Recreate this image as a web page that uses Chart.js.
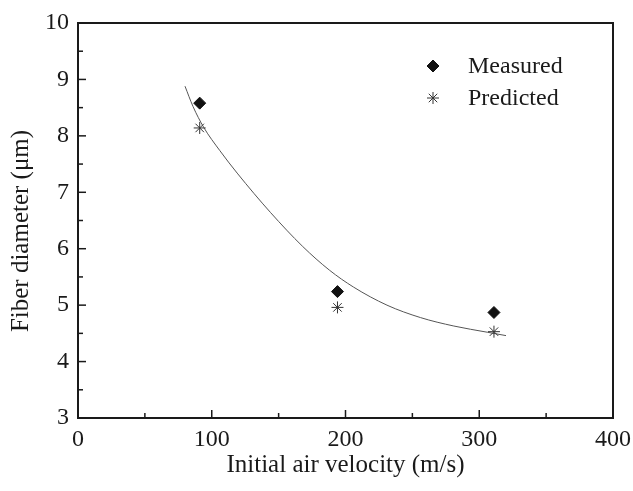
<!DOCTYPE html>
<html>
<head>
<meta charset="utf-8">
<script src="https://cdn.jsdelivr.net/npm/chart.js@4.4.1/dist/chart.umd.min.js"></script>
<style>
  html, body { margin: 0; padding: 0; background: #fff; }
  #wrap { width: 633px; height: 491px; }
</style>
</head>
<body>
<div id="wrap"><canvas id="fiberChart" width="633" height="491"></canvas></div>
<script>
const velocity = [91, 194, 311];
const measured = [8.58, 5.24, 4.87];
const predicted = [8.14, 4.96, 4.53];

// fitted curve
const fitX = [80, 86, 94, 106, 119, 144, 168, 188, 206, 231, 256, 281, 306, 320];
const fitY = [8.88, 8.52, 8.15, 7.74, 7.34, 6.64, 6.04, 5.62, 5.32, 5.00, 4.78, 4.63, 4.52, 4.46];

const xTicks = [0, 100, 200, 300, 400];
const yTicks = [3, 4, 5, 6, 7, 8, 9, 10];

const serif = "'Liberation Serif', 'Times New Roman', serif";
const ink = '#1a1a1a';
const yTitle = 'Fiber diameter (μm)';

// frame, inward ticks, y title and legend
const framePlugin = {
  id: 'frame',
  afterDraw(chart) {
    const { ctx, chartArea: a, scales } = chart;
    const xs = scales.x, ys = scales.y;
    ctx.save();
    ctx.strokeStyle = ink;
    ctx.lineWidth = 2;
    ctx.strokeRect(a.left, a.top, a.right - a.left, a.bottom - a.top);

    ctx.lineWidth = 1.5;
    for (let v = 0; v <= 400; v += 50) {
      const px = xs.getPixelForValue(v);
      const len = v % 100 === 0 ? 8 : 5;
      ctx.beginPath();
      ctx.moveTo(px, a.bottom);
      ctx.lineTo(px, a.bottom - len);
      ctx.stroke();
    }
    for (let v = 3; v <= 10; v += 0.5) {
      const py = ys.getPixelForValue(v);
      const len = v % 1 === 0 ? 8 : 5;
      ctx.beginPath();
      ctx.moveTo(a.left, py);
      ctx.lineTo(a.left + len, py);
      ctx.stroke();
    }

    // y title sits a little below the middle in the original
    ctx.fillStyle = ink;
    ctx.font = '25px ' + serif;
    ctx.textAlign = 'center';
    ctx.textBaseline = 'middle';
    ctx.translate(21, 231);
    ctx.rotate(-Math.PI / 2);
    ctx.fillText(yTitle, 0, 0);
    ctx.setTransform(1, 0, 0, 1, 0, 0);

    // legend
    ctx.font = '24px ' + serif;
    ctx.textAlign = 'left';
    [chart.data.datasets[0], chart.data.datasets[1]].forEach((ds, i) => {
      const y = 66 + i * 32;
      ctx.fillStyle = ds.backgroundColor;
      ctx.strokeStyle = ds.borderColor;
      ctx.lineWidth = ds.borderWidth;
      Chart.helpers.drawPoint(ctx, {
        pointStyle: ds.pointStyle,
        radius: ds.pointRadius,
        borderWidth: ds.borderWidth
      }, 433, y);
      ctx.fillStyle = ink;
      ctx.fillText(ds.label, 468, y + 1);
    });
    ctx.restore();
  }
};

const ctx = document.getElementById('fiberChart').getContext('2d');

new Chart(ctx, {
  type: 'scatter',
  data: {
    datasets: [
      {
        label: 'Measured',
        data: velocity.map((v, i) => ({ x: v, y: measured[i] })),
        pointStyle: 'rectRot',
        pointRadius: 6,
        backgroundColor: '#111',
        borderColor: '#111',
        borderWidth: 1
      },
      {
        label: 'Predicted',
        data: velocity.map((v, i) => ({ x: v, y: predicted[i] })),
        pointStyle: 'star',
        pointRadius: 6,
        backgroundColor: '#333',
        borderColor: '#333',
        borderWidth: 1
      },
      {
        label: 'Fit',
        type: 'line',
        data: fitX.map((v, i) => ({ x: v, y: fitY[i] })),
        borderColor: '#555',
        borderWidth: 1,
        pointRadius: 0,
        cubicInterpolationMode: 'monotone',
        fill: false
      }
    ]
  },
  options: {
    responsive: false,
    animation: false,
    layout: { padding: { top: 23, right: 20, left: 0, bottom: 0 } },
    plugins: {
      legend: { display: false },
      tooltip: { enabled: false }
    },
    scales: {
      x: {
        type: 'linear',
        min: 0,
        max: 400,
        afterBuildTicks: s => { s.ticks = xTicks.map(v => ({ value: v })); },
        afterFit: s => { s.height = 73; },
        grid: { display: false },
        border: { display: false },
        ticks: {
          font: { family: serif, size: 24 },
          color: ink,
          padding: -1,
          maxRotation: 0
        },
        title: {
          display: true,
          text: 'Initial air velocity (m/s)',
          font: { family: serif, size: 25 },
          color: ink,
          padding: { top: 0, bottom: 11 }
        }
      },
      y: {
        type: 'linear',
        min: 3,
        max: 10,
        afterBuildTicks: s => { s.ticks = yTicks.map(v => ({ value: v })); },
        afterFit: s => { s.width = 78; },
        grid: { display: false },
        border: { display: false },
        ticks: {
          font: { family: serif, size: 24 },
          color: ink,
          padding: 1
        },
        title: { display: false }
      }
    }
  },
  plugins: [framePlugin]
});
</script>
</body>
</html>
